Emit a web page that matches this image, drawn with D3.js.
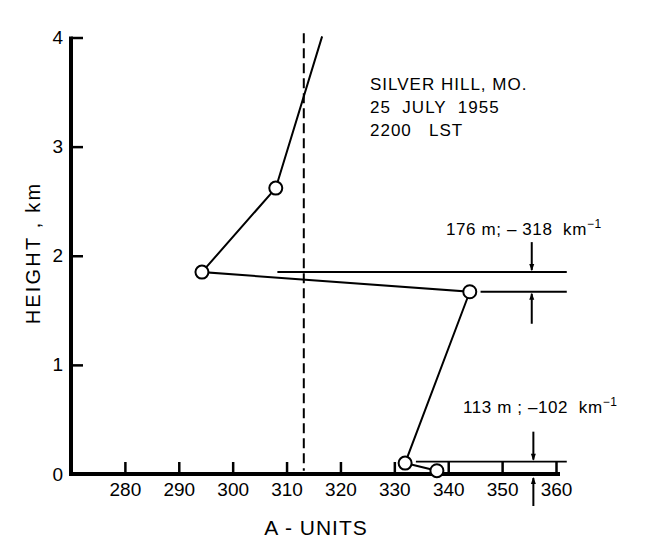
<!DOCTYPE html>
<html><head><meta charset="utf-8">
<script src="https://cdn.jsdelivr.net/npm/d3@7"></script>
<style>
html,body{margin:0;padding:0;background:#fff;}
svg{display:block;}
text{font-family:"Liberation Sans",Arial,sans-serif;fill:#000;white-space:pre;}
</style></head>
<body>
<svg id="chart" width="650" height="558"></svg>
<script>
// ---- data ----
const aUnits   = [337.9, 332.0, 344.0, 294.3, 308.0, 316.6];
const heights  = [0.03, 0.10, 1.67, 1.85, 2.62, 4.01];
const hasCircle = [true, true, true, true, true, false];
const xTicks = [280, 290, 300, 310, 320, 330, 340, 350, 360];
const yTicks = [0, 1, 2, 3, 4];
const refA = 313.2;                       // dashed reference line (A-units)
const layerTop    = [1.85, 0.113];
const layerBottom = [1.67, 0.0];
const layerLabel  = ["176 m; \u2013 318  km", "113 m ; \u2013102  km"];
const layerLineStart = [308.3, 334.0];     // where the upper level line starts (A-units)
const layerLowStart  = [346.0, null];      // where the lower level line starts
const arrowA = [355.5, 355.8];
const titleLines = ["SILVER HILL, MO.", "25  JULY  1955", "2200   LST"];

// ---- scales ----
const x = d3.scaleLinear().domain([270, 360]).range([71, 556]);
const y = d3.scaleLinear().domain([0, 4]).range([474, 37.5]);
const svg = d3.select("#chart");

// axes (ticks via d3 axis)
const gx = svg.append("g").attr("transform", `translate(0,${y(0)})`)
  .call(d3.axisBottom(x).tickValues(xTicks).tickSizeInner(-12).tickSizeOuter(0).tickPadding(9));
gx.select(".domain").remove();
gx.selectAll(".tick line").attr("stroke", "#000").attr("stroke-width", 2.5);
gx.selectAll(".tick text").attr("font-size", 19).attr("font-family", "Liberation Sans, Arial, sans-serif");

const gy = svg.append("g").attr("transform", `translate(${x(270)},0)`)
  .call(d3.axisLeft(y).tickValues(yTicks).tickFormat(d3.format("d")).tickSizeInner(-12).tickSizeOuter(0).tickPadding(8));
gy.select(".domain").remove();
gy.selectAll(".tick line").attr("stroke", "#000").attr("stroke-width", 2.5);
gy.selectAll(".tick text").attr("font-size", 19).attr("font-family", "Liberation Sans, Arial, sans-serif");

// thick axis lines
svg.append("line").attr("x1", x(270)).attr("x2", x(360) + 4).attr("y1", y(0)).attr("y2", y(0))
  .attr("stroke", "#000").attr("stroke-width", 4);
svg.append("line").attr("x1", x(270)).attr("x2", x(270)).attr("y1", y(4) - 1).attr("y2", y(0) + 2)
  .attr("stroke", "#000").attr("stroke-width", 4);

// dashed reference line
svg.append("line").attr("x1", x(refA)).attr("x2", x(refA)).attr("y1", y(4.04)).attr("y2", y(0.03))
  .attr("stroke", "#000").attr("stroke-width", 2).attr("stroke-dasharray", "10,5");

// profile line
const pts = aUnits.map((a, i) => ({a, h: heights[i], c: hasCircle[i]}));
svg.append("path").datum(pts)
  .attr("d", d3.line().x(d => x(d.a)).y(d => y(d.h)))
  .attr("fill", "none").attr("stroke", "#000").attr("stroke-width", 2);
svg.selectAll("circle.pt").data(pts.filter(d => d.c)).enter().append("circle")
  .attr("class", "pt").attr("cx", d => x(d.a)).attr("cy", d => y(d.h)).attr("r", 6.5)
  .attr("fill", "#fff").attr("stroke", "#000").attr("stroke-width", 2);

// layer annotations
const rightEnd = 362;
const arrowHead = (ax, ay, dir) => {   // dir: +1 pointing down, -1 pointing up
  svg.append("path")
    .attr("d", `M${ax},${ay} L${ax - 2.5},${ay - dir * 7} L${ax + 2.5},${ay - dir * 7} Z`)
    .attr("fill", "#000");
};
layerTop.forEach((t, i) => {
  svg.append("line").attr("x1", x(layerLineStart[i])).attr("x2", x(rightEnd))
    .attr("y1", y(t)).attr("y2", y(t)).attr("stroke", "#000").attr("stroke-width", i === 0 ? 2 : 1.8);
  if (layerLowStart[i] !== null) {
    svg.append("line").attr("x1", x(layerLowStart[i])).attr("x2", x(rightEnd))
      .attr("y1", y(layerBottom[i])).attr("y2", y(layerBottom[i])).attr("stroke", "#000").attr("stroke-width", 2);
  }
  const ax = x(arrowA[i]);
  const yt = y(t), yb = y(layerBottom[i]);
  const botGap = i === 0 ? 0 : 2;
  svg.append("line").attr("x1", ax).attr("x2", ax).attr("y1", yt - 30).attr("y2", yt - 2)
    .attr("stroke", "#000").attr("stroke-width", 2);
  arrowHead(ax, yt - 1, 1);
  svg.append("line").attr("x1", ax).attr("x2", ax).attr("y1", yb + 32).attr("y2", yb + 2 + botGap)
    .attr("stroke", "#000").attr("stroke-width", 2);
  arrowHead(ax, yb + 1 + botGap, -1);
  const txt = svg.append("text").attr("x", i === 0 ? 446 : 463).attr("y", yt - (i === 0 ? 37 : 49))
    .attr("font-size", 17).attr("letter-spacing", 0.6);
  txt.append("tspan").text(layerLabel[i]);
  txt.append("tspan").attr("dy", -7).attr("font-size", 12).text("\u22121");
});

// title block
titleLines.forEach((t, i) => {
  svg.append("text").attr("x", 370).attr("y", 90 + i * 23).attr("font-size", 17)
    .attr("letter-spacing", 1).text(t);
});

// axis titles
svg.append("text").attr("x", 316).attr("y", 535).attr("text-anchor", "middle")
  .attr("font-size", 21).attr("letter-spacing", 1).text("A - UNITS");
svg.append("text").attr("transform", "translate(40,253) rotate(-90)").attr("text-anchor", "middle")
  .attr("font-size", 20).attr("letter-spacing", 2.2).text("HEIGHT , km");
</script>
</body></html>
